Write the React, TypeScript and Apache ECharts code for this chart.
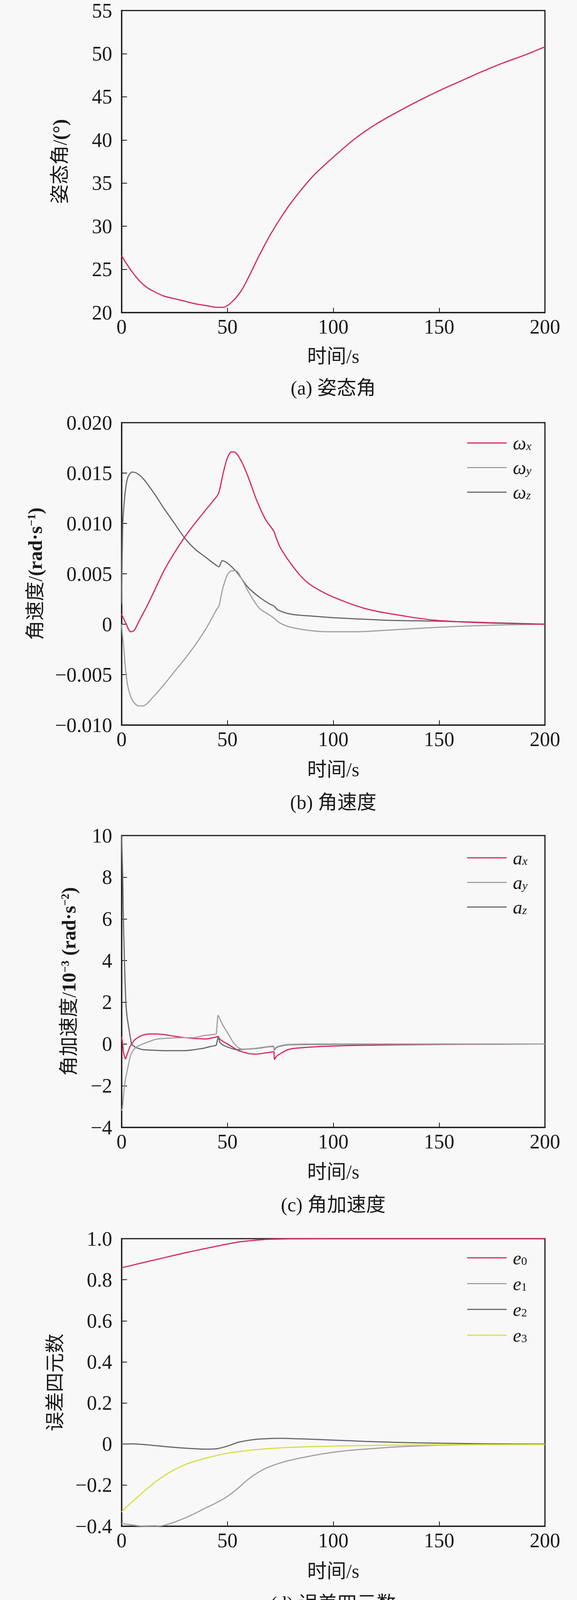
import React, { useEffect, useRef } from "react";
import * as echarts from "echarts";

// ---------- data ----------
const timeRange = [0, 200];

// (a) attitude angle (deg)
const tAttitude = [0, 1.7, 5, 8.7, 12, 15.6, 20, 25, 30, 35, 40, 45, 48, 50, 52, 54, 57, 60, 65, 70, 75, 80, 90, 100, 110, 120, 130, 140, 150, 160, 170, 180, 190, 200];
const attitude = [26.6, 25.9, 24.7, 23.6, 22.9, 22.4, 21.9, 21.6, 21.3, 21.0, 20.8, 20.6, 20.6, 20.8, 21.2, 21.7, 22.7, 24.1, 26.6, 28.9, 30.9, 32.7, 35.7, 38.0, 40.1, 41.8, 43.2, 44.5, 45.7, 46.8, 47.9, 48.9, 49.8, 50.8];

// (b) angular velocity (rad/s)
const tOmegaX = [0, 2, 4.3, 6, 8, 10, 12, 15, 20, 25, 30, 35, 40, 45, 46, 47, 48, 50, 52, 54, 57, 60, 64, 68, 72, 73, 75, 80, 85, 90, 100, 116, 134, 148, 170, 200];
const omegaX = [0.001, 0.0001, -0.00075, -0.0006, 0.0002, 0.001, 0.0018, 0.0031, 0.0053, 0.0071, 0.0087, 0.0101, 0.0114, 0.0127, 0.0131, 0.014, 0.015, 0.0165, 0.0171, 0.017, 0.016, 0.0145, 0.0122, 0.0104, 0.0092, 0.0086, 0.0076, 0.006, 0.0047, 0.0038, 0.0027, 0.0015, 0.0008, 0.0004, 0.00015, 0];
const tOmegaY = [0, 0.5, 1, 2, 3, 5, 8, 10, 15, 20, 25, 30, 35, 40, 45, 46, 47, 48, 50, 52, 54, 57, 60, 65, 70, 72, 75, 80, 90, 100, 110, 125, 150, 175, 200];
const omegaY = [0, -0.0012, -0.0023, -0.0047, -0.0062, -0.0075, -0.0081, -0.0081, -0.0072, -0.006, -0.0047, -0.0034, -0.002, -0.0004, 0.0015, 0.0018, 0.0028, 0.0037, 0.0049, 0.0053, 0.0053, 0.0044, 0.0032, 0.0016, 0.0009, 0.0006, 0.0001, -0.0003, -0.00065, -0.00075, -0.00075, -0.0006, -0.0003, -0.0001, 0];
const tOmegaZ = [0, 0.5, 1, 2, 3, 5, 7, 10, 15, 20, 25, 30, 35, 40, 45, 46, 47.5, 49, 52, 55, 60, 65, 70, 72, 74, 80, 90, 100, 125, 150, 175, 200];
const omegaZ = [0.002, 0.0095, 0.0115, 0.0136, 0.0146, 0.0151, 0.015, 0.0145, 0.0131, 0.0115, 0.01, 0.0085, 0.0074, 0.0066, 0.0058, 0.0057, 0.0063, 0.0062, 0.0057, 0.005, 0.0036, 0.0027, 0.002, 0.0018, 0.0014, 0.001, 0.0008, 0.00065, 0.0004, 0.0003, 0.00015, 0];

// (c) angular acceleration (1e-3 rad/s^2)
const tAx = [0, 0.4, 1, 1.8, 2.8, 4, 4.8, 6, 8, 10, 13, 17, 20, 25, 30, 35, 40, 44.5, 45.6, 46.2, 48, 51, 55, 60, 63, 66, 70, 71.9, 72.2, 73.2, 75.6, 78.6, 81.6, 94, 110, 130, 160, 200];
const accX = [0.35, 0.1, -0.45, -0.72, -0.45, -0.12, 0, 0.18, 0.33, 0.42, 0.48, 0.48, 0.45, 0.37, 0.3, 0.26, 0.24, 0.33, 0.36, 0.25, 0.12, -0.06, -0.31, -0.46, -0.49, -0.46, -0.4, -0.37, -0.74, -0.59, -0.43, -0.27, -0.21, -0.12, -0.07, -0.04, -0.015, 0];
const tAy = [0, 0.4, 1.35, 2.3, 3.5, 4.3, 5.5, 7.2, 10, 16.4, 22, 28.8, 35, 38.6, 43, 44.7, 45.6, 47.8, 51, 52.8, 55.2, 57, 63, 69.4, 71.8, 72.2, 73, 74.3, 78.6, 94, 120, 200];
const accY = [-3.2, -3.1, -2.0, -1.45, -0.87, -0.53, -0.3, -0.13, 0.0, 0.23, 0.28, 0.3, 0.31, 0.4, 0.45, 0.48, 1.38, 0.91, 0.38, 0.07, -0.18, -0.25, -0.21, -0.12, -0.1, -0.25, -0.16, -0.1, -0.02, 0, 0, 0];
const tAz = [0, 0.55, 0.85, 1.35, 2.0, 2.6, 3.2, 4, 4.7, 6, 7, 10, 15, 20, 30, 38.6, 42, 44.7, 45.6, 46.5, 48, 51, 54, 57, 63, 69, 71.8, 72.2, 73, 74.3, 78.6, 90, 120, 200];
const accZ = [10, 8, 6, 4, 2, 1.3, 0.9, 0.4, 0, -0.12, -0.18, -0.27, -0.3, -0.32, -0.32, -0.21, -0.12, -0.06, 0.35, 0.07, -0.06, -0.18, -0.27, -0.26, -0.22, -0.14, -0.12, -0.3, -0.18, -0.12, -0.04, -0.02, -0.01, 0];

// (d) error quaternion
const tE0 = [0, 10, 20, 30, 40, 50, 57, 65, 70, 80, 100, 150, 200];
const quatE0 = [0.858, 0.883, 0.907, 0.931, 0.953, 0.974, 0.986, 0.994, 0.997, 0.999, 1.0, 1.0, 1.0];
const tE1 = [0, 5, 10, 15, 20, 25, 30, 35, 40, 45, 50, 55, 60, 65, 70, 75, 80, 90, 100, 110, 120, 130, 150, 175, 200];
const quatE1 = [-0.387, -0.394, -0.4, -0.402, -0.396, -0.38, -0.36, -0.336, -0.31, -0.285, -0.255, -0.215, -0.17, -0.135, -0.11, -0.092, -0.078, -0.057, -0.04, -0.029, -0.021, -0.014, -0.006, -0.002, 0];
const tE2 = [0, 5, 10, 20, 30, 40, 45, 50, 55, 60, 65, 75, 85, 100, 115, 130, 150, 175, 200];
const quatE2 = [0, 0.001, -0.002, -0.012, -0.02, -0.025, -0.023, -0.01, 0.008, 0.018, 0.024, 0.028, 0.025, 0.019, 0.013, 0.008, 0.004, 0.001, 0];
const tE3 = [0, 3, 10, 15, 20, 25, 30, 40, 50, 60, 70, 80, 100, 125, 150, 200];
const quatE3 = [-0.331, -0.3, -0.236, -0.192, -0.155, -0.125, -0.1, -0.068, -0.045, -0.031, -0.022, -0.016, -0.01, -0.006, -0.004, -0.002];

const xTickLabels = ["0", "50", "100", "150", "200"];
const captions = ["(a) 姿态角", "(b) 角速度", "(c) 角加速度", "(d) 误差四元数"];

// ---------- styling ----------
const SERIF = "Liberation Serif, Times New Roman, Noto Sans CJK SC, serif";
const FS_TICK = 52;
const FS_TEXT = 50;
const FS_LEG = 48;
const INK = "#1a1a1a";
const RED = "#d42a63";
const LIGHT = "#a2a2a2";
const DARK = "#6a6a6a";
const YELLOW = "#d6df45";

const W = 1476;
const H = 4138;
const GRID_LEFT = 311;
const GRID_W = 1083;
const panels = [
  { top: 27, height: 773, xNameGap: 87, yNameGap: 133, captionY: 993 },
  { top: 1082, height: 774, xNameGap: 89, yNameGap: 196, captionY: 2054 },
  { top: 2139, height: 747, xNameGap: 89, yNameGap: 110, captionY: 3084 },
  { top: 3171, height: 736, xNameGap: 90, yNameGap: 145, captionY: 4105 },
];

const zip = (t: number[], v: number[]) => t.map((x, i) => [x, v[i]]);
const minus = (s: string) => s.replace("-", "\u2212");

const nameRich = {
  n: { fontFamily: SERIF, fontSize: FS_TEXT, color: INK, lineHeight: 50 },
  b: { fontFamily: SERIF, fontSize: FS_TEXT, color: INK, fontWeight: "bold", lineHeight: 50 },
  sup: { fontFamily: SERIF, fontSize: 29, color: INK, fontWeight: "bold", verticalAlign: "top", lineHeight: 24 },
};

const legendRich = {
  g: { fontFamily: SERIF, fontSize: FS_LEG, fontStyle: "italic", color: INK, lineHeight: 44 },
  si: { fontFamily: SERIF, fontSize: 30, fontStyle: "italic", color: INK, verticalAlign: "bottom", lineHeight: 20 },
  s: { fontFamily: SERIF, fontSize: 30, color: INK, verticalAlign: "bottom", lineHeight: 20 },
};

const legendLabels: Record<string, string> = {
  "ωx": "{g|ω}{si|x}",
  "ωy": "{g|ω}{si|y}",
  "ωz": "{g|ω}{si|z}",
  ax: "{g|a}{si|x}",
  ay: "{g|a}{si|y}",
  az: "{g|a}{si|z}",
  e0: "{g|e}{s|0}",
  e1: "{g|e}{s|1}",
  e2: "{g|e}{s|2}",
  e3: "{g|e}{s|3}",
};

function buildOption() {
  const grid = panels.map((p) => ({
    left: GRID_LEFT,
    top: p.top,
    width: GRID_W,
    height: p.height,
    show: true,
    borderColor: INK,
    borderWidth: 3,
    backgroundColor: "transparent",
  }));

  const xAxis = panels.map((p, i) => ({
    gridIndex: i,
    type: "value",
    min: timeRange[0],
    max: timeRange[1],
    interval: 50,
    name: "时间/s",
    nameLocation: "middle",
    nameGap: p.xNameGap,
    nameTextStyle: { fontFamily: SERIF, fontSize: FS_TEXT, color: INK },
    axisLine: { show: true, onZero: false, lineStyle: { color: INK, width: 3 } },
    axisTick: { show: true, inside: true, length: 12, lineStyle: { color: INK, width: 2 } },
    axisLabel: {
      margin: 10,
      fontFamily: SERIF,
      fontSize: FS_TICK,
      color: INK,
      formatter: (v: number) => xTickLabels[Math.round(v / 50)] ?? String(v),
    },
    splitLine: { show: false },
  }));

  const yCommon = (i: number) => ({
    gridIndex: i,
    type: "value",
    nameLocation: "middle",
    nameRotate: 90,
    nameGap: panels[i].yNameGap,
    axisLine: { show: true, onZero: false, lineStyle: { color: INK, width: 3 } },
    axisTick: { show: true, inside: true, length: 14, lineStyle: { color: INK, width: 2 } },
    splitLine: { show: false },
  });
  const yLabel = (fmt: (v: number) => string) => ({
    margin: 24,
    fontFamily: SERIF,
    fontSize: FS_TICK,
    color: INK,
    formatter: fmt,
  });
  const nameStyle = { fontFamily: SERIF, fontSize: FS_TEXT, color: INK, lineHeight: 50, rich: nameRich };

  const yAxis = [
    {
      ...yCommon(0),
      min: 20,
      max: 55,
      interval: 5,
      name: "{n|姿态角/}{b|(°)}",
      nameTextStyle: nameStyle,
      axisLabel: yLabel((v: number) => String(v)),
    },
    {
      ...yCommon(1),
      min: -0.01,
      max: 0.02,
      interval: 0.005,
      name: "{n|角速度/}{b|(rad·s}{sup|\u22121}{b|)}",
      nameTextStyle: nameStyle,
      axisLabel: yLabel((v: number) => (Math.abs(v) < 1e-9 ? "0" : minus(v.toFixed(3)))),
    },
    {
      ...yCommon(2),
      min: -4,
      max: 10,
      interval: 2,
      name: "{n|角加速度/}{b|10}{sup|\u22123}{b| (rad·s}{sup|\u22122}{b|)}",
      nameTextStyle: nameStyle,
      axisLabel: yLabel((v: number) => minus(String(v))),
    },
    {
      ...yCommon(3),
      min: -0.4,
      max: 1.0,
      interval: 0.2,
      name: "{n|误差四元数}",
      nameTextStyle: nameStyle,
      axisLabel: yLabel((v: number) => (Math.abs(v) < 1e-9 ? "0" : minus(v.toFixed(1)))),
    },
  ];

  const line = (name: string, idx: number, t: number[], v: number[], color: string, smooth = 0.3) => ({
    name,
    type: "line",
    xAxisIndex: idx,
    yAxisIndex: idx,
    data: zip(t, v),
    showSymbol: false,
    symbol: "none",
    smooth,
    lineStyle: { color, width: 3 },
    itemStyle: { color },
    z: 3,
  });

  const series = [
    line("姿态角", 0, tAttitude, attitude, RED),
    line("ωz", 1, tOmegaZ, omegaZ, DARK),
    line("ωy", 1, tOmegaY, omegaY, LIGHT),
    line("ωx", 1, tOmegaX, omegaX, RED),
    line("ax", 2, tAx, accX, RED, 0.15),
    line("az", 2, tAz, accZ, DARK, 0.15),
    line("ay", 2, tAy, accY, LIGHT, 0.15),
    line("e0", 3, tE0, quatE0, RED),
    line("e1", 3, tE1, quatE1, LIGHT),
    line("e2", 3, tE2, quatE2, DARK),
    line("e3", 3, tE3, quatE3, YELLOW),
  ];

  const legendBase = {
    orient: "vertical",
    left: 1195,
    padding: 0,
    icon: "rect",
    itemWidth: 101,
    itemHeight: 3,
    selectedMode: false,
    formatter: (name: string) => legendLabels[name] ?? name,
    textStyle: { fontFamily: SERIF, fontSize: FS_LEG, color: INK, lineHeight: 44, padding: [0, 0, 0, 11], rich: legendRich },
  };
  const legend = [
    { ...legendBase, top: 1110, itemGap: 15, data: ["ωx", "ωy", "ωz"] },
    { ...legendBase, top: 2172, itemGap: 15, data: ["ax", "ay", "az"] },
    { ...legendBase, top: 3196, itemGap: 18, data: ["e0", "e1", "e2", "e3"] },
  ];

  const graphic = panels.map((p, i) => ({
    type: "text",
    x: GRID_LEFT + GRID_W / 2,
    y: p.captionY,
    silent: true,
    style: {
      text: captions[i],
      fontFamily: SERIF,
      fontSize: FS_TEXT,
      fill: INK,
      align: "center",
      verticalAlign: "middle",
      textAlign: "center",
      textVerticalAlign: "middle",
    },
  }));

  return {
    animation: false,
    backgroundColor: "#f8f8f8",
    grid,
    xAxis,
    yAxis,
    legend,
    series,
    graphic,
  };
}

export default function App() {
  const ref = useRef<HTMLDivElement>(null);
  useEffect(() => {
    if (!ref.current) return;
    const chart = echarts.init(ref.current, undefined, { renderer: "svg", width: W, height: H });
    chart.setOption(buildOption() as any);
    return () => chart.dispose();
  }, []);
  return (
    <div
      ref={ref}
      style={{ position: "absolute", left: 0, top: 0, width: W, height: H, background: "#f8f8f8" }}
    />
  );
}
